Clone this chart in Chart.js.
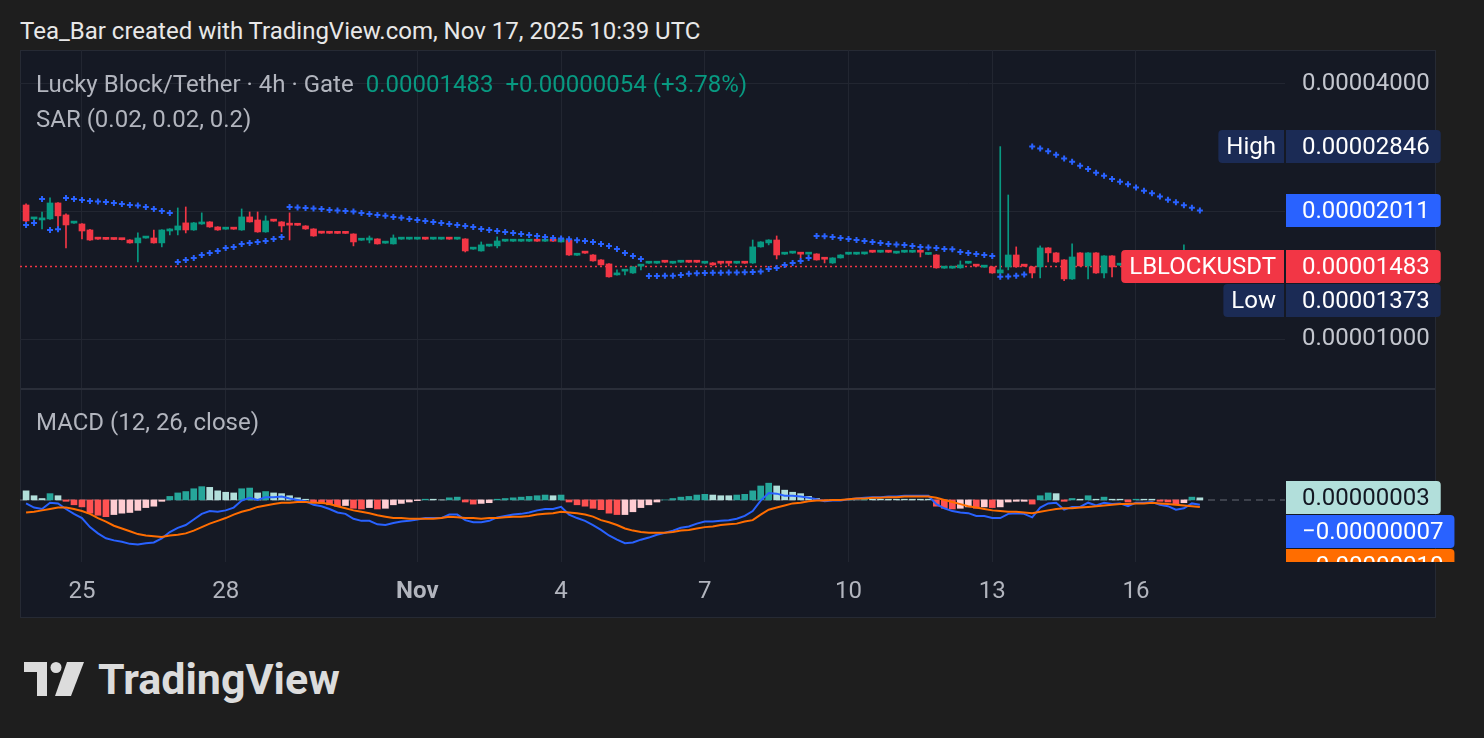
<!DOCTYPE html>
<html>
<head>
<meta charset="utf-8">
<script src="https://cdn.jsdelivr.net/npm/chart.js@4.4.1/dist/chart.umd.min.js"></script>
<style>
  html, body { margin: 0; padding: 0; width: 1484px; height: 738px; overflow: hidden; background: #1e1e1e; font-family: Roboto, sans-serif; }
  #title { position: absolute; left: 20px; top: 16px; color: #e8e8e8; font-size: 24px; line-height: 30px; white-space: nowrap; }
  #panel { position: absolute; left: 20px; top: 50px; width: 1414px; height: 566px; background: #151924; border: 1px solid #262a34; }
  .wrap { position: absolute; left: 20px; width: 1464px; }
  #pw { top: 50px; height: 339px; }
  #mw { top: 389px; height: 229px; }
  #sep { position: absolute; left: 21px; top: 388px; width: 1414px; height: 2px; background: #2a2e39; }
  .leg { position: absolute; left: 36px; color: #b2b5be; font-size: 24px; line-height: 28px; white-space: nowrap; }
  .leg .v { color: #089981; margin-left: 12px; }
  #logo { position: absolute; left: 24px; top: 656px; height: 44px; }
  #logo svg { position: absolute; left: 0; top: 6px; }
  #logo span { position: absolute; left: 74px; top: -2px; font-size: 43px; font-weight: 700; color: #dcdcdc; white-space: nowrap; }
</style>
</head>
<body>
<div id="title">Tea_Bar created with TradingView.com, Nov 17, 2025 10:39 UTC</div>
<div id="panel"></div>
<div class="wrap" id="pw"><canvas id="priceChart"></canvas></div>
<div class="wrap" id="mw"><canvas id="macdChart"></canvas></div>
<div id="sep"></div>
<div class="leg" style="top:70px">Lucky Block/Tether · 4h · Gate<span class="v" id="lastPx"></span><span class="v" id="chg"></span></div>
<div class="leg" style="top:105px">SAR (0.02, 0.02, 0.2)</div>
<div class="leg" style="top:408px">MACD (12, 26, close)</div>
<div id="logo">
  <svg width="62" height="34" viewBox="0 0 62 34">
    <path d="M0 0 H23 V34 H13 V10 H0 Z" fill="#dcdcdc"/>
    <circle cx="32" cy="5.5" r="5.5" fill="#dcdcdc"/>
    <path d="M43 0 H60 L47 34 H31 Z" fill="#dcdcdc"/>
  </svg>
  <span>TradingView</span>
</div>
<script>
// 4h candles, bar 0 = 25 Oct 2025 00:00 UTC; prices in units of 1e-8 USDT
const firstBar = -7;

const open = [
  2072,1921,1910,1921,2095,1963,1878,1869,1809,1725,
  1723,1722,1721,1713,1686,1731,1732,1686,1799,1809,
  1880,1809,1869,1890,1839,1817,1821,1809,1942,1910,
  1790,1902,1890,1861,1860,1849,1819,1782,1781,1780,
  1780,1770,1711,1713,1723,1684,1677,1721,1721,1721,
  1725,1721,1721,1725,1721,1723,1630,1614,1657,1659,
  1702,1702,1702,1702,1706,1702,1706,1695,1713,1577,
  1599,1579,1537,1504,1417,1446,1432,1486,1510,1510,
  1522,1510,1518,1522,1522,1510,1512,1514,1514,1510,
  1514,1512,1650,1686,1713,1586,1595,1590,1586,1588,
  1547,1512,1554,1586,1586,1588,1607,1603,1607,1595,
  1603,1603,1607,1584,1579,1470,1470,1472,1510,1490,
  1478,1480,1432,1480,1579,1490,1480,1480,1641,1597,
  1537,1386,1597,1488,1597,1432,1571,1494,1496,1470,
  1500,1476,1492,1478,1495,1465,1490,1429
];
const high = [
  2084,1932,1995,2153,2100,1974,1885,1872,1815,1726,
  1725,1724,1723,1716,1780,1737,1809,1812,1822,2039,
  2050,1885,1985,1893,1842,1823,1823,2028,1995,1995,
  1953,1904,1893,1985,1862,1852,1822,1784,1783,1782,
  1782,1772,1717,1751,1725,1690,1761,1727,1727,1727,
  1727,1727,1727,1727,1727,1725,1636,1695,1663,1742,
  1708,1708,1708,1708,1708,1708,1708,1726,1716,1583,
  1601,1582,1540,1507,1456,1452,1483,1492,1516,1516,
  1524,1516,1524,1524,1524,1516,1515,1516,1516,1516,
  1516,1713,1698,1716,1751,1592,1601,1592,1592,1590,
  1549,1556,1582,1592,1592,1600,1609,1609,1609,1601,
  1609,1609,1609,1590,1582,1476,1476,1529,1516,1492,
  1484,1483,2846,2188,1650,1492,1483,1659,1644,1600,
  1540,1677,1600,1600,1600,1574,1574,1500,1500,1510,
  1505,1500,1496,1505,1498,1668,1494,1490
];
const low = [
  1890,1910,1819,1915,1829,1641,1875,1723,1708,1719,
  1718,1716,1714,1684,1520,1729,1684,1650,1761,1761,
  1780,1805,1865,1835,1805,1815,1815,1805,1888,1786,
  1786,1896,1790,1713,1854,1815,1748,1776,1775,1774,
  1774,1659,1709,1686,1675,1682,1675,1719,1719,1719,
  1719,1719,1719,1719,1719,1605,1628,1612,1655,1641,
  1700,1700,1700,1700,1700,1700,1700,1692,1576,1575,
  1593,1526,1493,1400,1414,1417,1428,1456,1508,1508,
  1516,1508,1516,1516,1516,1508,1493,1500,1488,1508,
  1508,1508,1647,1668,1545,1584,1593,1554,1584,1535,
  1512,1508,1552,1584,1584,1585,1601,1601,1601,1593,
  1601,1601,1562,1582,1469,1468,1468,1469,1508,1484,
  1476,1429,1425,1456,1477,1484,1394,1394,1520,1517,
  1373,1383,1485,1386,1429,1394,1402,1492,1460,1465,
  1470,1470,1470,1472,1440,1460,1420,1425
];
const close = [
  1900,1923,1932,2095,1953,1859,1882,1799,1713,1721,
  1719,1718,1716,1686,1732,1735,1686,1809,1819,1849,
  1809,1880,1880,1839,1809,1821,1817,1942,1890,1790,
  1900,1898,1849,1857,1856,1819,1751,1778,1777,1776,
  1776,1695,1715,1732,1677,1688,1732,1725,1725,1725,
  1721,1725,1725,1721,1725,1614,1634,1668,1661,1704,
  1706,1706,1706,1706,1702,1706,1702,1723,1579,1581,
  1595,1529,1496,1402,1432,1450,1480,1490,1514,1514,
  1518,1514,1522,1518,1518,1514,1496,1510,1510,1514,
  1510,1650,1695,1713,1579,1590,1599,1586,1590,1537,
  1543,1554,1579,1590,1590,1597,1603,1607,1603,1599,
  1607,1607,1603,1588,1472,1474,1474,1496,1514,1486,
  1482,1432,1456,1579,1480,1486,1432,1641,1597,1520,
  1386,1562,1488,1597,1432,1571,1480,1498,1470,1500,
  1476,1492,1478,1495,1465,1490,1429,1483
];
// Parabolic SAR (0.02, 0.02, 0.2)
const sar = [
  1859,1880,2140,1809,1815,2153,2141,2130,2118,2112,
  2107,2095,2084,2072,2066,2050,2028,2006,1985,1520,
  1537,1554,1579,1597,1614,1641,1650,1677,1686,1695,
  1704,1723,1742,2050,2045,2039,2033,2028,2017,2012,
  2006,2000,1985,1974,1963,1953,1942,1932,1921,1910,
  1900,1890,1880,1869,1859,1849,1839,1819,1809,1799,
  1790,1780,1770,1761,1751,1742,1732,1727,1720,1710,
  1704,1695,1677,1659,1632,1597,1571,1545,1409,1409,
  1410,1411,1417,1425,1430,1432,1433,1434,1435,1436,
  1438,1440,1444,1464,1472,1496,1512,1529,1554,1751,
  1748,1742,1732,1723,1713,1704,1695,1686,1677,1672,
  1668,1659,1650,1645,1641,1632,1628,1605,1597,1588,
  1579,1571,1402,1405,1410,1420,2846,2815,2775,2722,
  2668,2620,2566,2520,2470,2428,2388,2350,2318,2278,
  2240,2208,2170,2132,2102,2070,2042,2011
];
// MACD (12, 26, close), same units
const macd = [
  -5,-11,-13,-4,-5,-13,-20,-26,-39,-48,
  -55,-58,-60,-63,-64,-62,-61,-55,-46,-40,
  -36,-28,-20,-16,-17,-15,-11,-1,3,0,
  4,4,5,2,0,-2,-7,-9,-13,-18,
  -20,-27,-30,-30,-35,-36,-33,-31,-30,-28,
  -26,-26,-26,-21,-21,-29,-32,-32,-30,-25,
  -23,-21,-20,-18,-15,-13,-13,-10,-21,-26,
  -30,-36,-43,-51,-57,-62,-61,-57,-54,-50,
  -47,-44,-40,-38,-34,-31,-31,-30,-29,-27,
  -23,-16,-1,10,9,6,6,5,3,1,
  -2,-1,-1,1,2,3,4,4,5,5,
  6,6,6,6,-6,-12,-16,-18,-19,-23,
  -23,-26,-26,-20,-19,-20,-25,-11,-5,-4,
  -14,-10,-10,-4,-8,-4,-6,-5,-9,-4,
  -4,-3,-7,-9,-14,-12,-5,-7
];
const signal = [
  -18,-17,-15,-13,-11,-11,-13,-16,-20,-26,
  -31,-37,-41,-45,-49,-51,-52,-53,-51,-50,
  -48,-44,-39,-34,-30,-26,-21,-17,-14,-10,
  -8,-6,-4,-4,-3,-3,-4,-4,-6,-9,
  -12,-15,-17,-19,-22,-24,-26,-26,-27,-27,
  -27,-27,-26,-24,-25,-26,-26,-27,-26,-26,
  -25,-24,-24,-23,-21,-20,-19,-17,-18,-19,
  -21,-24,-29,-32,-36,-41,-44,-46,-47,-47,
  -47,-46,-44,-43,-41,-39,-38,-36,-35,-34,
  -31,-29,-21,-14,-11,-8,-5,-4,-2,-1,
  -1,0,0,1,2,2,3,3,4,4,
  5,5,5,5,3,0,-3,-6,-9,-11,
  -13,-15,-16,-17,-17,-18,-19,-17,-15,-13,
  -12,-12,-11,-10,-9,-8,-7,-6,-6,-5,
  -5,-4,-5,-6,-7,-8,-9,-10
];
const hist = [
  13,6,2,9,6,-2,-7,-10,-19,-22,
  -24,-21,-19,-18,-15,-11,-9,-2,5,10,
  12,16,19,18,13,11,10,16,17,10,
  12,10,9,6,3,1,-3,-5,-7,-9,
  -8,-12,-13,-11,-13,-12,-7,-5,-3,-1,
  1,1,0,3,4,-3,-6,-5,-4,1,
  2,3,4,5,6,7,6,7,-3,-7,
  -9,-12,-14,-19,-21,-21,-17,-11,-7,-3,
  0,2,4,5,7,8,7,6,6,7,
  8,13,20,24,20,14,11,9,5,2,
  -1,-1,-1,0,0,1,1,1,1,1,
  1,1,1,1,-9,-12,-13,-12,-10,-12,
  -10,-11,-10,-3,-2,-2,-6,6,10,9,
  -2,2,1,6,1,4,1,1,-3,1,
  1,1,-2,-3,-7,-4,4,3
];

const dayTicks = [0, 18, 42, 60, 78, 96, 114, 132];
const dayLabels = ['25', '28', 'Nov', '4', '7', '10', '13', '16'];
const priceTicks = [1000, 2000, 4000];

// visible window
const viewFrom = -7.76, viewTo = 150.66;
const priceMin = 762, priceMax = 4812;
const macdMin = -89, macdMax = 159;

const up = '#089981', down = '#f23645';
const gridCol = '#222631';
const axisTxt = '#b2b5be';

Chart.defaults.font.family = 'Roboto, sans-serif';
Chart.defaults.font.size = 24;
Chart.defaults.color = axisTxt;

const fmt = v => (v < 0 ? '\u2212' : '') + (Math.abs(v) * 1e-8).toFixed(8);
const bars = open.map((_, k) => firstBar + k);
const last = close.length - 1;

const candleCol = open.map((o, k) => close[k] >= o ? up : down);
const histCol = hist.map((h, k) => {
  const prev = k > 0 ? hist[k - 1] : h;
  if (h >= 0) return h > prev ? '#26a69a' : '#b2dfdb';
  return h < prev ? '#ff5252' : '#ffcdd2';
});

document.getElementById('lastPx').textContent = fmt(close[last]);
const diff = close[last] - close[last - 1];
document.getElementById('chg').textContent =
  (diff >= 0 ? '+' : '\u2212') + fmt(Math.abs(diff)) + ' (' + (diff >= 0 ? '+' : '\u2212') + Math.abs(diff / close[last - 1] * 100).toFixed(2) + '%)';

// value tags on the right axis
const tagPlugin = {
  id: 'tags',
  afterDraw(chart, args, opts) {
    const { ctx, chartArea } = chart;
    const scale = chart.scales.y;
    const h = 33, gap = 1;
    const items = opts.items.map(t => Object.assign({}, t, { cy: scale.getPixelForValue(t.value) }));
    items.sort((a, b) => a.cy - b.cy);
    for (let k = 1; k < items.length; k++) {
      const minY = items[k - 1].cy + h + gap;
      if (items[k].cy < minY) items[k].cy = minY;
    }
    ctx.save();
    ctx.beginPath();
    ctx.rect(0, chartArea.top, chart.width, chartArea.bottom - chartArea.top);
    ctx.clip();
    ctx.font = '24px Roboto';
    ctx.textBaseline = 'middle';
    items.forEach(t => {
      const x0 = chartArea.right + 1;
      const top = Math.round(t.cy - h / 2);
      const tw = ctx.measureText(t.text).width;
      ctx.fillStyle = t.bg;
      ctx.beginPath();
      ctx.roundRect(x0, top, tw + 27, h, [0, 4, 4, 0]);
      ctx.fill();
      ctx.fillStyle = t.fg;
      ctx.textAlign = 'left';
      ctx.fillText(t.text, x0 + 16, top + h / 2 + 1);
      if (t.title) {
        const w = ctx.measureText(t.title).width + 16;
        ctx.fillStyle = t.bg;
        ctx.beginPath();
        ctx.roundRect(x0 - 2 - w, top, w, h, [4, 0, 0, 4]);
        ctx.fill();
        ctx.fillStyle = t.fg;
        ctx.textAlign = 'center';
        ctx.fillText(t.title, x0 - 2 - w / 2, top + h / 2 + 1);
      }
    });
    ctx.restore();
  }
};

function xScale(showLabels) {
  return {
    type: 'linear', min: viewFrom, max: viewTo, offset: false, bounds: 'data',
    afterBuildTicks: s => { s.ticks = dayTicks.map(v => ({ value: v })); },
    grid: { color: gridCol, offset: false, drawTicks: false },
    border: { display: false },
    ticks: {
      display: showLabels, padding: 16, maxRotation: 0, autoSkip: false,
      color: axisTxt,
      callback: (v, i) => dayLabels[i],
      font: c => ({ size: 24, weight: (c.index !== undefined && isNaN(dayLabels[c.index])) ? 'bold' : 'normal' })
    },
    afterFit: s => { s.height = showLabels ? 56 : 0; s.paddingLeft = 0; s.paddingRight = 0; }
  };
}

new Chart(document.getElementById('priceChart'), {
  type: 'bar',
  data: {
    datasets: [
      {
        type: 'line', order: 5,
        data: [{ x: viewFrom, y: close[last] }, { x: viewTo, y: close[last] }],
        borderColor: down, borderWidth: 1.5, borderDash: [2, 3], pointRadius: 0
      },
      {
        order: 3, grouped: false, barThickness: 1,
        data: bars.map((x, k) => ({ x, y: [low[k], high[k]] })),
        backgroundColor: candleCol
      },
      {
        order: 2, grouped: false, barThickness: 6, minBarLength: 2,
        data: bars.map((x, k) => ({ x, y: [open[k], close[k]] })),
        backgroundColor: candleCol
      },
      {
        type: 'line', order: 1, showLine: false,
        data: bars.map((x, k) => ({ x, y: sar[k] })),
        pointStyle: 'cross', pointRadius: 3, pointBorderWidth: 2,
        pointBorderColor: '#2962ff', borderColor: '#2962ff'
      }
    ]
  },
  options: {
    responsive: true, maintainAspectRatio: false, animation: false, events: [],
    layout: { autoPadding: false, padding: { left: 0, right: 48, top: 0, bottom: 0 } },
    plugins: {
      legend: { display: false }, tooltip: { enabled: false },
      tags: {
        items: [
          { value: Math.max(...high), title: 'High', text: fmt(Math.max(...high)), bg: '#1b2b55', fg: '#ffffff' },
          { value: sar[last], text: fmt(sar[last]), bg: '#2962ff', fg: '#ffffff' },
          { value: close[last], title: 'LBLOCKUSDT', text: fmt(close[last]), bg: '#f23645', fg: '#ffffff' },
          { value: Math.min(...low), title: 'Low', text: fmt(Math.min(...low)), bg: '#1b2b55', fg: '#ffffff' }
        ]
      }
    },
    scales: {
      x: xScale(false),
      y: {
        type: 'logarithmic', position: 'right', min: priceMin, max: priceMax, bounds: 'data',
        afterBuildTicks: s => { s.ticks = priceTicks.map(v => ({ value: v })); },
        grid: { color: gridCol, drawTicks: false },
        border: { display: false },
        ticks: { color: '#c3c6ce', padding: 17, callback: v => fmt(v) },
        afterFit: s => { s.width = 151; s.paddingTop = 0; s.paddingBottom = 0; }
      }
    }
  },
  plugins: [tagPlugin]
});

new Chart(document.getElementById('macdChart'), {
  type: 'bar',
  data: {
    datasets: [
      {
        type: 'line', order: 5,
        data: [{ x: viewFrom, y: 0 }, { x: viewTo, y: 0 }],
        borderColor: 'rgba(120,123,134,0.55)', borderWidth: 1.5, borderDash: [7, 5], pointRadius: 0
      },
      {
        order: 4, grouped: false, barThickness: 6,
        data: bars.map((x, k) => ({ x, y: hist[k] })),
        backgroundColor: histCol
      },
      {
        type: 'line', order: 3,
        data: bars.map((x, k) => ({ x, y: macd[k] })),
        borderColor: '#2962ff', borderWidth: 2, pointRadius: 0, tension: 0
      },
      {
        type: 'line', order: 2,
        data: bars.map((x, k) => ({ x, y: signal[k] })),
        borderColor: '#ff6d00', borderWidth: 2, pointRadius: 0, tension: 0
      }
    ]
  },
  options: {
    responsive: true, maintainAspectRatio: false, animation: false, events: [],
    layout: { autoPadding: false, padding: { left: 0, right: 48, top: 0, bottom: 0 } },
    plugins: {
      legend: { display: false }, tooltip: { enabled: false },
      tags: {
        items: [
          { value: hist[last], text: fmt(hist[last]), bg: '#b2dfdb', fg: '#131722' },
          { value: macd[last], text: fmt(macd[last]), bg: '#2962ff', fg: '#ffffff' },
          { value: signal[last], text: fmt(signal[last]), bg: '#ff6d00', fg: '#ffffff' }
        ]
      }
    },
    scales: {
      x: xScale(true),
      y: {
        type: 'linear', position: 'right', min: macdMin, max: macdMax, bounds: 'data',
        grid: { display: false },
        border: { display: false },
        ticks: { display: false },
        afterFit: s => { s.width = 151; s.paddingTop = 0; s.paddingBottom = 0; }
      }
    }
  },
  plugins: [tagPlugin]
});
</script>
</body>
</html>
